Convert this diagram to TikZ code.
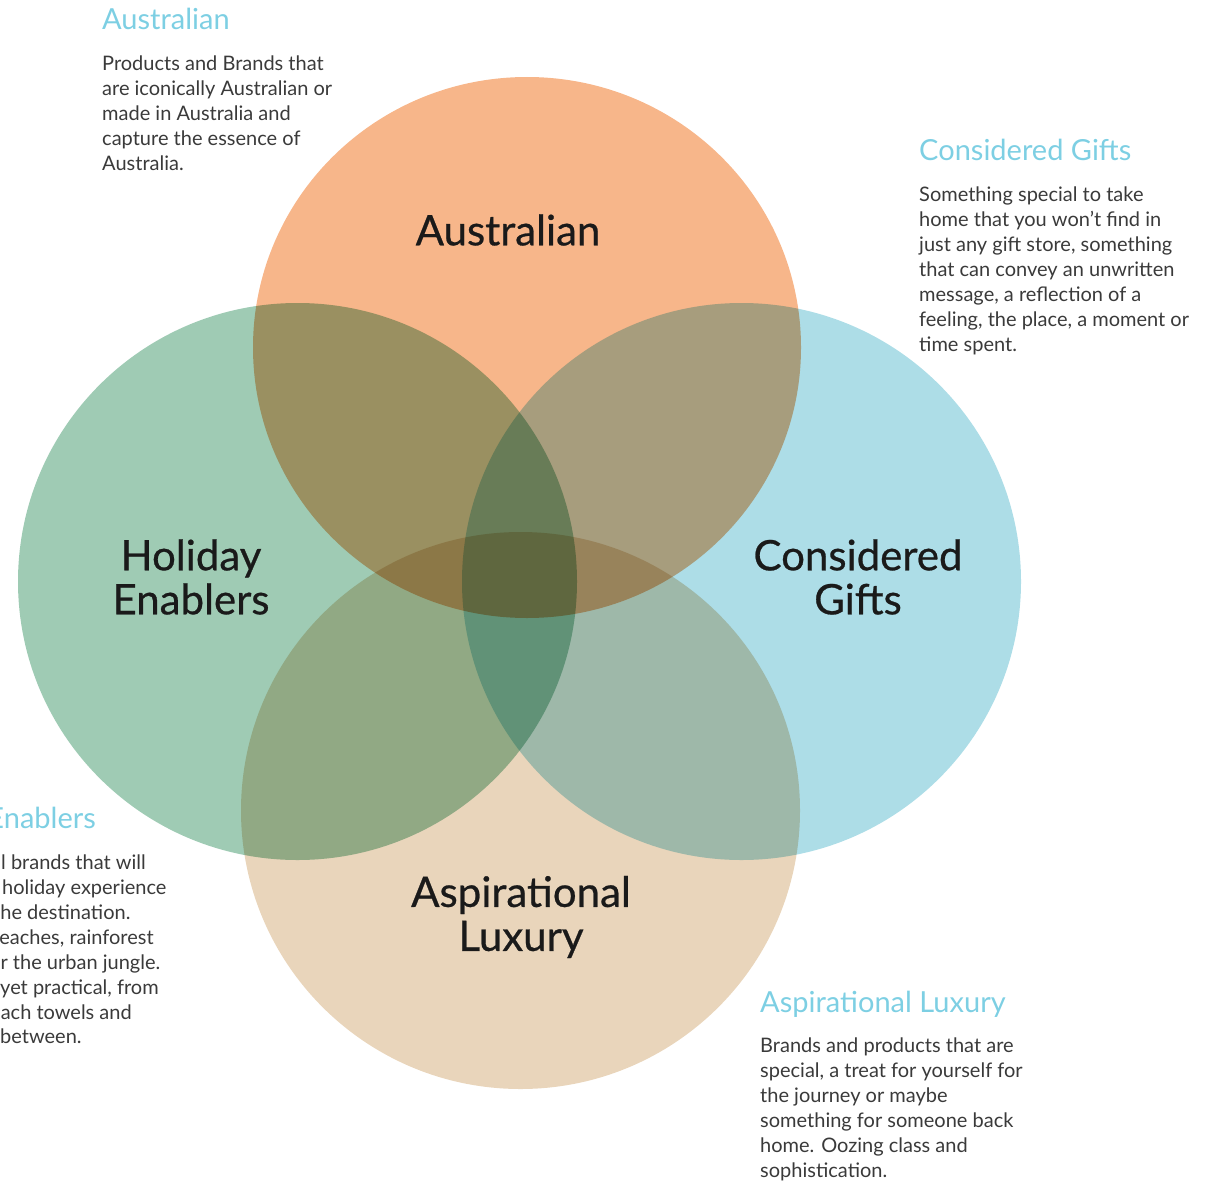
\documentclass[tikz,border=0pt]{standalone}
\usepackage{fontspec}
\setmainfont{Lato}
\definecolor{cOrange}{HTML}{F7B68A}
\definecolor{cGreen}{HTML}{9FCBB4}
\definecolor{cBlue}{HTML}{ADDDE7}
\definecolor{cTan}{HTML}{E9D5BB}
\definecolor{cHead}{HTML}{7DCFE3}
\definecolor{cBody}{HTML}{3A3A3A}
\definecolor{cLabel}{HTML}{1A1A1A}
\tikzset{
  headtxt/.style={text=cHead, font=\fontsize{29}{32}\selectfont, inner sep=0pt, anchor=base west},
  bodytxt/.style={text=cBody, font=\fontsize{20}{25}\selectfont, inner sep=0pt, align=left, anchor=base west},
  linetxt/.style={text=cBody, font=\fontsize{20}{25}\selectfont, inner sep=0pt, anchor=base west},
  circlabel/.style={text=cLabel, font=\fontsize{42}{44}\selectfont\addfontfeature{FakeBold=0.6}, inner sep=0pt, align=center},
}
\begin{document}
\begin{tikzpicture}[x=1pt,y=-1pt]
\useasboundingbox (0,0) rectangle (1209,1180);
\clip (0,0) rectangle (1209,1180);
\begin{scope}[blend group=multiply]
  \fill[cOrange] (527,347.5) ellipse [x radius=274, y radius=270.5];
  \fill[cGreen] (297.5,581.5) ellipse [x radius=279.5, y radius=278.5];
  \fill[cBlue] (741.5,581.5) ellipse [x radius=279.5, y radius=278.5];
  \fill[cTan] (520.5,810.5) ellipse [x radius=279.5, y radius=278.5];
\end{scope}
% circle labels
\node[circlabel] (lAus) at (508,230) {Australian};
\node[circlabel] (lHol) at (191,577) {Holiday\\Enablers};
\node[circlabel] (lCon) at (858,577) {Considered\\Gifts};
\node[circlabel] (lAsp) at (521,917) {Aspirational\\Luxury};
% Australian description (anchor = baseline of last line)
\node[headtxt] (hAus) at (102,30) {Australian};
\node[bodytxt] (bAus) at (102,170) {Products and Brands that\\are iconically Australian or\\made in Australia and\\capture the essence of\\Australia.};
% Considered Gifts description
\node[headtxt] (hCon) at (919,160) {Considered Gifts};
\node[bodytxt] (bCon) at (919,351) {Something special to take\\home that you won’t find in\\just any gift store, something\\that can convey an unwritten\\message, a reflection of a\\feeling, the place, a moment or\\time spent.};
% Aspirational Luxury description
\node[headtxt] (hAsp) at (760,1012) {Aspirational Luxury};
\node[bodytxt] (bAsp) at (760,1177) {Brands and products that are\\special, a treat for yourself for\\the journey or maybe\\something for someone back\\home. Oozing class and\\sophistication.};
% Holiday Enablers description (cut by the left edge)
\node[headtxt, anchor=base east] (hHol) at (96,828) {Holiday Enablers};
\node[linetxt] (h1) at (1,869) {l brands that will};
\node[linetxt] (h2) at (2,894) {holiday experience};
\node[linetxt] (h3) at (-7,919) {the destination.};
\node[linetxt] (h4) at (-12,944) {beaches, rainforest};
\node[linetxt] (h5) at (-11,969) {or the urban jungle.};
\node[linetxt] (h6) at (0,994) {yet practical, from};
\node[linetxt] (h7) at (-10,1019) {each towels and};
\node[linetxt] (h8) at (0,1043) {between.};
\end{tikzpicture}
\end{document}
